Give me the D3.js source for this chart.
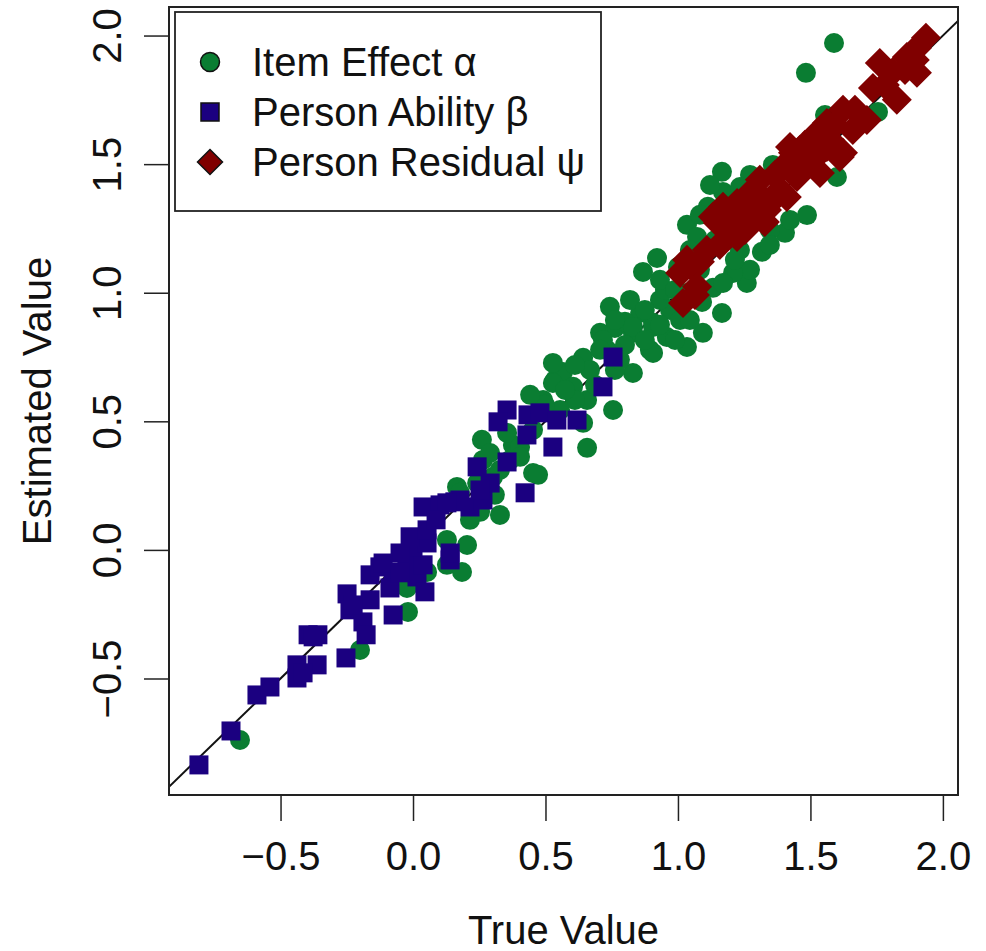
<!DOCTYPE html>
<html>
<head>
<meta charset="utf-8">
<script src="https://cdn.jsdelivr.net/npm/d3@7"></script>
<style>
  html, body { margin: 0; padding: 0; background: #fff; }
  svg text { font-family: "Liberation Sans", Arial, Helvetica, sans-serif; fill: #111; }
</style>
</head>
<body>
<svg id="chart" width="986" height="951"></svg>
<script>
// Axis limits (true value on x, estimated value on y)
const xLimits = [-0.921, 2.057];
const yLimits = [-0.953, 2.111];
const xTicks = [-0.5, 0.0, 0.5, 1.0, 1.5, 2.0];
const yTicks = [-0.5, 0.0, 0.5, 1.0, 1.5, 2.0];

// Item effects alpha: [true, estimated]
const itemEffect = [
  [-0.653,-0.739],[-0.200,-0.389],[-0.019,-0.241],[0.053,-0.086],[0.128,-0.058],
  [0.185,-0.086],[0.204,0.019],[0.128,0.039],[-0.023,-0.148],[0.328,0.136],
  [0.253,0.148],[0.166,0.245],[0.260,0.428],[0.377,0.408],[0.453,0.299],
  [0.302,0.284],[0.472,0.292],[0.657,0.397],[0.755,0.544],[0.642,0.494],
  [0.264,0.350],[0.355,0.455],[0.404,0.400],[0.453,0.467],[0.491,0.583],
  [0.536,0.661],[0.566,0.692],[0.642,0.747],[0.604,0.634],[0.657,0.583],
  [0.743,0.945],[0.706,0.844],[0.732,0.778],[0.830,0.688],[0.830,0.844],
  [0.894,0.778],[0.857,0.921],[0.906,0.883],[0.177,0.222],[0.242,0.260],
  [0.404,0.362],[0.291,0.377],[0.528,0.649],[0.762,0.863],[0.800,0.887],
  [0.868,1.081],[0.921,1.135],[1.034,1.264],[1.072,1.217],[1.113,1.334],
  [1.000,1.100],[1.091,0.964],[1.166,0.921],[1.094,0.844],[1.034,0.789],
  [0.906,0.766],[0.958,0.828],[0.830,0.867],[0.906,0.867],[0.970,0.933],
  [1.034,0.999],[1.260,1.038],[1.317,1.159],[1.272,1.089],[1.404,1.233],
  [1.487,1.302],[1.208,1.077],[1.234,1.166],[1.132,1.019],[1.170,1.038],
  [1.166,1.470],[1.272,1.458],[1.358,1.497],[1.170,1.392],[1.600,1.450],
  [1.589,1.971],[1.483,1.855],[1.555,1.691],[1.755,1.703],[1.234,1.411],
  [0.717,0.816],[0.528,0.727],[0.932,0.972],[0.875,0.816],[0.800,0.797],
  [0.762,0.700],[0.687,0.642],[0.611,0.583],[0.555,0.544],[0.781,0.739],
  [0.328,0.311],[0.366,0.350],[0.309,0.214],[0.215,0.117],[1.045,1.166],
  [1.083,1.089],[1.140,1.205],[1.347,1.244],[1.309,1.361],[1.008,0.894],
  [0.951,1.011],[0.762,0.894],[0.819,0.972],[0.875,0.933],[0.932,0.875],
  [0.989,0.816],[1.045,0.894],[0.706,0.778],[0.668,0.700],[0.611,0.719],
  [0.574,0.622],[0.498,0.564],[0.442,0.603],[0.932,1.050],[0.989,1.011],
  [1.083,1.303],[1.121,1.419],[1.215,1.128],[1.347,1.186],[1.423,1.283]
];

// Person abilities beta: [true, estimated]
const personAbility = [
  [-0.808,-0.836],[-0.687,-0.704],[-0.589,-0.564],[-0.540,-0.533],[-0.438,-0.498],
  [-0.438,-0.447],[-0.362,-0.447],[-0.396,-0.330],[-0.359,-0.330],[-0.253,-0.420],
  [-0.249,-0.171],[-0.238,-0.233],[-0.189,-0.280],[-0.177,-0.330],[-0.162,-0.097],
  [-0.125,-0.066],[-0.075,-0.086],[-0.087,-0.148],[-0.075,-0.253],[-0.023,-0.039],
  [0.015,-0.105],[0.045,-0.163],[0.038,-0.058],[0.140,-0.039],[0.000,0.012],
  [0.053,0.027],[-0.049,-0.012],[-0.113,-0.051],[-0.162,-0.194],[-0.226,-0.214],
  [-0.011,0.051],[0.053,0.078],[0.038,0.167],[0.102,0.175],[0.158,0.187],
  [0.215,0.167],[0.264,0.194],[0.291,0.260],[0.242,0.323],[0.355,0.342],
  [0.423,0.222],[0.355,0.544],[0.321,0.498],[0.434,0.525],[0.479,0.533],
  [0.543,0.505],[0.619,0.505],[0.430,0.447],[0.528,0.400],[0.717,0.634],
  [0.755,0.750],[-0.049,-0.089],[0.177,0.194],[0.128,0.183],[0.140,-0.012],
  [-0.377,-0.338],[-0.415,-0.478],[0.087,0.117],[0.253,0.233]
];

// Person residuals psi: [true, estimated]
const personResidual = [
  [1.936,1.991],[1.902,1.952],[1.864,1.917],[1.762,1.893],[1.811,1.858],
  [1.902,1.855],[1.826,1.750],[1.736,1.796],[1.713,1.672],[1.623,1.711],
  [1.660,1.633],[1.562,1.660],[1.525,1.621],[1.423,1.567],[1.611,1.528],
  [1.487,1.516],[1.536,1.466],[1.449,1.450],[1.385,1.400],[1.358,1.361],
  [1.298,1.388],[1.223,1.349],[1.170,1.334],[1.132,1.295],[1.019,0.960],
  [1.008,1.077],[1.072,1.023],[1.109,1.166],[1.151,1.271],[1.272,1.388],
  [1.283,1.283],[1.336,1.322],[1.411,1.372],[1.434,1.544],[1.509,1.516],
  [1.623,1.544],[1.562,1.567],[1.223,1.217],[1.034,1.128],[1.208,1.295],
  [1.245,1.322],[1.185,1.244],[1.083,1.120],[1.309,1.439],[1.479,1.575],
  [1.045,1.108],[1.309,1.341],[1.366,1.458],[1.404,1.497],[1.460,1.555],
  [1.574,1.594],[1.592,1.652],[1.668,1.711],[1.781,1.808],[1.857,1.866],
  [1.894,1.905],[1.253,1.244],[1.328,1.275],[1.158,1.186],[1.064,0.991]
];

const seriesNames = ["Item Effect \u03b1", "Person Ability \u03b2", "Person Residual \u03c8"];
const seriesColors = ["#0a7d32", "#1b0080", "#800000"];

const box = { left: 169, right: 958, top: 7, bottom: 795 };
const svg = d3.select("#chart");

const x = d3.scaleLinear().domain(xLimits).range([box.left, box.right]);
const y = d3.scaleLinear().domain(yLimits).range([box.bottom, box.top]);

svg.append("defs").append("clipPath").attr("id", "plotClip")
  .append("rect")
  .attr("x", box.left).attr("y", box.top)
  .attr("width", box.right - box.left).attr("height", box.bottom - box.top);

const plot = svg.append("g").attr("clip-path", "url(#plotClip)");

// identity line y = x
plot.append("line")
  .attr("x1", x(xLimits[0])).attr("y1", y(xLimits[0]))
  .attr("x2", x(xLimits[1])).attr("y2", y(xLimits[1]))
  .attr("stroke", "#111").attr("stroke-width", 2);

const rCircle = 10, sSquare = 19, dDiamond = 15;

plot.append("g").selectAll("circle").data(itemEffect).join("circle")
  .attr("cx", d => x(d[0])).attr("cy", d => y(d[1]))
  .attr("r", rCircle).attr("fill", seriesColors[0]);

plot.append("g").selectAll("rect").data(personAbility).join("rect")
  .attr("x", d => x(d[0]) - sSquare / 2).attr("y", d => y(d[1]) - sSquare / 2)
  .attr("width", sSquare).attr("height", sSquare).attr("fill", seriesColors[1]);

const diamondPath = (cx, cy, h) => `M${cx},${cy - h}L${cx + h},${cy}L${cx},${cy + h}L${cx - h},${cy}Z`;
plot.append("g").selectAll("path").data(personResidual).join("path")
  .attr("d", d => diamondPath(x(d[0]), y(d[1]), dDiamond))
  .attr("fill", seriesColors[2]);

// frame
svg.append("rect")
  .attr("x", box.left).attr("y", box.top)
  .attr("width", box.right - box.left).attr("height", box.bottom - box.top)
  .attr("fill", "none").attr("stroke", "#222").attr("stroke-width", 2);

const fmt = v => (v < 0 ? "\u2212" : "") + Math.abs(v).toFixed(1);

// x axis
const xAxis = svg.append("g").attr("transform", `translate(0,${box.bottom})`)
  .call(d3.axisBottom(x).tickValues(xTicks).tickSize(26).tickFormat(fmt));
xAxis.select(".domain").remove();
xAxis.selectAll(".tick line").attr("stroke", "#222").attr("stroke-width", 1.5);
xAxis.selectAll(".tick text")
  .attr("y", 75).attr("dy", 0)
  .style("font-size", "40px").attr("fill", "#111");

// y axis
const yAxis = svg.append("g").attr("transform", `translate(${box.left},0)`)
  .call(d3.axisLeft(y).tickValues(yTicks).tickSize(25).tickFormat(fmt));
yAxis.select(".domain").remove();
yAxis.selectAll(".tick line").attr("stroke", "#222").attr("stroke-width", 1.5);
yAxis.selectAll(".tick text")
  .attr("x", 0).attr("dy", 0)
  .attr("text-anchor", "middle")
  .attr("transform", "translate(-48,0) rotate(-90)")
  .style("font-size", "40px").attr("fill", "#111");

// axis titles
svg.append("text")
  .attr("x", (box.left + box.right) / 2).attr("y", 944)
  .attr("text-anchor", "middle").style("font-size", "40px")
  .text("True Value");

svg.append("text")
  .attr("transform", `translate(51,${(box.top + box.bottom) / 2}) rotate(-90)`)
  .attr("text-anchor", "middle").style("font-size", "40px")
  .text("Estimated Value");

// legend
const legend = svg.append("g");
legend.append("rect")
  .attr("x", 175).attr("y", 12).attr("width", 426).attr("height", 199)
  .attr("fill", "#fff").attr("stroke", "#222").attr("stroke-width", 1.8);

const rowY = [62, 112, 162];
const symX = 210;
legend.append("circle").attr("cx", symX).attr("cy", rowY[0]).attr("r", 9.5)
  .attr("fill", seriesColors[0]).attr("stroke", "#111").attr("stroke-width", 1.5);
legend.append("rect").attr("x", symX - 9).attr("y", rowY[1] - 9).attr("width", 18).attr("height", 18)
  .attr("fill", seriesColors[1]).attr("stroke", "#111").attr("stroke-width", 1.5);
legend.append("path").attr("d", diamondPath(symX, rowY[2], 12.5))
  .attr("fill", seriesColors[2]).attr("stroke", "#111").attr("stroke-width", 1.5);

legend.selectAll("text.leg").data(seriesNames).join("text")
  .attr("class", "leg")
  .attr("x", 252).attr("y", (d, i) => rowY[i] + 14)
  .style("font-size", "40px")
  .text(d => d);
</script>
</body>
</html>
